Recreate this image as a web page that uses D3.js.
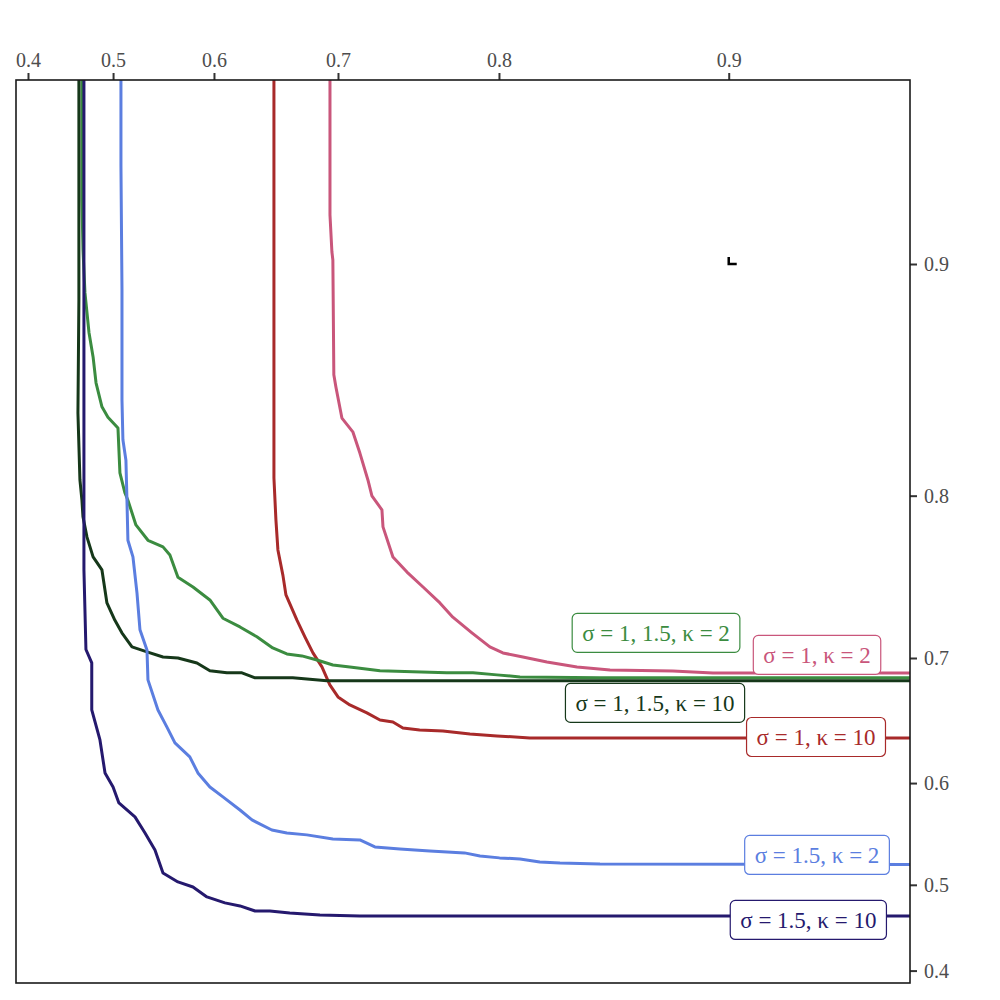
<!DOCTYPE html>
<meta charset="utf-8">
<style>
	body { margin: 0; background: #fff; }
	svg { font-family: "Liberation Serif", "DejaVu Serif", serif; }
	.axis text { fill: #4d4d4d; font-size: 20px; font-family: "Liberation Serif", "DejaVu Serif", serif; }
	.axis path { display: none; }
	.axis line { stroke: #333; stroke-width: 2px; }
	.curve { fill: none; stroke-width: 3px; stroke-linejoin: round; }
	.tag text { font-size: 23px; }
</style>
<body>
<svg id="chart" width="1000" height="1000"></svg>
<script src="https://cdn.jsdelivr.net/npm/d3@7"></script>
<script>
	// both axes use the same stretched scale: position ~ -log(1.09 - v)
	var C = 1.09;
	var xTicks = [0.4, 0.5, 0.6, 0.7, 0.8, 0.9];
	var yTicks = [0.4, 0.5, 0.6, 0.7, 0.8, 0.9];

	// curves, [x, y]
	var s1k2 = [[0.6942,0.99],[0.6942,0.9163],[0.6956,0.9042],[0.6963,0.9014],[0.6970,0.8574],[0.6985,0.8522],
		[0.7028,0.8383],[0.7105,0.8319],[0.7154,0.8217],[0.7209,0.8082],[0.7236,0.7999],[0.7303,0.7924],
		[0.7310,0.7830],[0.7375,0.7657],[0.7465,0.7566],[0.7565,0.7474],[0.7667,0.7373],[0.7743,0.7280],
		[0.7852,0.7175],[0.7951,0.7078],[0.8021,0.7036],[0.8125,0.7007],[0.8245,0.6972],[0.8388,0.6936],
		[0.8536,0.6914],[0.8794,0.6906],[0.8944,0.6892],[0.99,0.6892]];
	var s1k10 = [[0.6512,0.99],[0.6512,0.8092],[0.6528,0.7869],[0.6544,0.7698],[0.6584,0.7546],[0.6608,0.7424],
		[0.6694,0.7260],[0.6755,0.7148],[0.6816,0.7036],[0.6883,0.6936],[0.6941,0.6804],[0.7000,0.6713],
		[0.7084,0.6651],[0.7202,0.6589],[0.7290,0.6533],[0.7375,0.6517],[0.7439,0.6469],[0.7544,0.6453],
		[0.7685,0.6445],[0.7841,0.6420],[0.7989,0.6404],[0.8160,0.6387],[0.99,0.6387]];
	var smixk2 = [[0.4652,0.99],[0.4652,0.9210],[0.4664,0.9049],[0.4687,0.8897],[0.4733,0.8746],[0.4779,0.8649],
		[0.4812,0.8540],[0.4878,0.8434],[0.4944,0.8387],[0.5053,0.8337],[0.5074,0.8118],[0.5128,0.8014],
		[0.5159,0.7976],[0.5243,0.7841],[0.5367,0.7754],[0.5518,0.7716],[0.5586,0.7669],[0.5664,0.7534],
		[0.5807,0.7474],[0.5963,0.7392],[0.6080,0.7273],[0.6229,0.7215],[0.6372,0.7148],[0.6502,0.7071],
		[0.6615,0.7029],[0.6732,0.7015],[0.6846,0.6986],[0.6963,0.6950],[0.7084,0.6936],[0.7290,0.6908],
		[0.7502,0.6900],[0.7708,0.6893],[0.7858,0.6893],[0.7989,0.6878],[0.8110,0.6863],[0.8492,0.6856],
		[0.99,0.6856]];
	var smixk10 = [[0.4617,0.99],[0.4617,0.8872],[0.4606,0.8406],[0.4629,0.8082],[0.4652,0.7976],[0.4664,0.7886],
		[0.4710,0.7772],[0.4779,0.7657],[0.4878,0.7579],[0.4933,0.7373],[0.5020,0.7259],[0.5095,0.7175],
		[0.5202,0.7078],[0.5357,0.7043],[0.5518,0.7007],[0.5664,0.7000],[0.5844,0.6964],[0.5963,0.6908],
		[0.6115,0.6893],[0.6246,0.6893],[0.6357,0.6856],[0.6661,0.6856],[0.6919,0.6834],[0.7154,0.6834],
		[0.99,0.6834]];
	var s15k2 = [[0.5085,0.99],[0.5085,0.9313],[0.5096,0.8908],[0.5096,0.8465],[0.5106,0.8281],[0.5138,0.8182],
		[0.5149,0.7975],[0.5159,0.7754],[0.5212,0.7657],[0.5254,0.7437],[0.5285,0.7196],[0.5357,0.7056],
		[0.5367,0.6841],[0.5468,0.6612],[0.5557,0.6476],[0.5635,0.6346],[0.5777,0.6229],[0.5853,0.6090],
		[0.5963,0.5965],[0.6080,0.5875],[0.6229,0.5753],[0.6331,0.5659],[0.6495,0.5562],[0.6615,0.5532],
		[0.6770,0.5514],[0.6963,0.5474],[0.7154,0.5464],[0.7256,0.5394],[0.7420,0.5374],[0.7606,0.5354],
		[0.7810,0.5334],[0.7897,0.5303],[0.8003,0.5283],[0.8110,0.5272],[0.8210,0.5241],[0.8308,0.5231],
		[0.8492,0.5221],[0.99,0.5211]];
	var s15k10 = [[0.4675,0.99],[0.4675,0.7580],[0.4698,0.7060],[0.4764,0.6965],[0.4764,0.6612],[0.4856,0.6371],
		[0.4912,0.6089],[0.5000,0.5965],[0.5063,0.5819],[0.5233,0.5688],[0.5337,0.5533],[0.5438,0.5364],
		[0.5518,0.5126],[0.5664,0.5031],[0.5807,0.4976],[0.5936,0.4868],[0.6098,0.4802],[0.6229,0.4768],
		[0.6357,0.4711],[0.6479,0.4711],[0.6638,0.4688],[0.6868,0.4665],[0.7154,0.4654],[0.99,0.4654]];

	var names = ["σ = 1, κ = 2", "σ = 1, κ = 10", "σ = 1, 1.5, κ = 2", "σ = 1, 1.5, κ = 10", "σ = 1.5, κ = 2", "σ = 1.5, κ = 10"];
	var series = [s1k2, s1k10, smixk2, smixk10, s15k2, s15k10];
	// label centres, data units
	var labelX = [0.9285, 0.9282, 0.8728, 0.8724, 0.9285, 0.9259];
	var labelY = [0.7022, 0.6395, 0.7175, 0.6667, 0.5313, 0.4609];
	var colors = ["#c9567b", "#a82a2a", "#3b8c40", "#16381a", "#5b7ee0", "#25196e"];

	var markX = [0.9], markY = [0.9];

	var pLeft = 16, pRight = 910, pTop = 80, pBottom = 983;

	var x = d3.scaleLog().domain([C - 0.3846, C - 0.9539]).range([pLeft, pRight]);
	var y = d3.scaleLog().domain([C - 0.3842, C - 0.9542]).range([pBottom, pTop]);
	var px = function(v) { return x(C - v); };
	var py = function(v) { return y(C - v); };

	var svg = d3.select("#chart");

	svg.append("defs").append("clipPath").attr("id", "clip")
		.append("rect")
		.attr("x", pLeft).attr("y", pTop)
		.attr("width", pRight - pLeft).attr("height", pBottom - pTop);

	svg.append("g").attr("class", "axis")
		.attr("transform", "translate(0," + pTop + ")")
		.call(d3.axisTop(x).tickValues(xTicks.map(function(v) { return C - v; }))
			.tickFormat(function(u) { return d3.format(".1f")(C - u); })
			.tickSize(7).tickPadding(6));

	svg.append("g").attr("class", "axis")
		.attr("transform", "translate(" + pRight + ",0)")
		.call(d3.axisRight(y).tickValues(yTicks.map(function(v) { return C - v; }))
			.tickFormat(function(u) { return d3.format(".1f")(C - u); })
			.tickSize(7).tickPadding(7));

	var line = d3.line()
		.x(function(d) { return px(d[0]); })
		.y(function(d) { return py(d[1]); });

	var plot = svg.append("g").attr("clip-path", "url(#clip)");
	series.forEach(function(s, i) {
		plot.append("path")
			.attr("class", "curve")
			.attr("d", line(s))
			.attr("stroke", colors[i]);
	});

	// small corner mark
	plot.selectAll(".mark").data(markX).enter().append("path")
		.attr("class", "mark")
		.attr("d", function(d, i) {
			var cx = px(d), cy = py(markY[i]);
			return "M" + cx + "," + (cy - 7) + "V" + cy + "H" + (cx + 8);
		})
		.attr("fill", "none").attr("stroke", "#000").attr("stroke-width", 2.5);

	svg.append("rect")
		.attr("x", pLeft).attr("y", pTop)
		.attr("width", pRight - pLeft).attr("height", pBottom - pTop)
		.attr("fill", "none").attr("stroke", "#1a1a1a").attr("stroke-width", 1.6);

	// labels
	names.forEach(function(n, i) {
		var g = svg.append("g").attr("class", "tag")
			.attr("transform", "translate(" + px(labelX[i]) + "," + py(labelY[i]) + ")");
		var t = g.append("text")
			.attr("text-anchor", "middle")
			.attr("dy", "0.35em")
			.attr("fill", colors[i])
			.text(n);
		var bb = t.node().getBBox();
		g.insert("rect", "text")
			.attr("x", bb.x - 10).attr("y", -19.5)
			.attr("width", bb.width + 20).attr("height", 39)
			.attr("rx", 5)
			.attr("fill", "#fff")
			.attr("stroke", colors[i]).attr("stroke-width", 1.2);
	});
</script>
</body>
